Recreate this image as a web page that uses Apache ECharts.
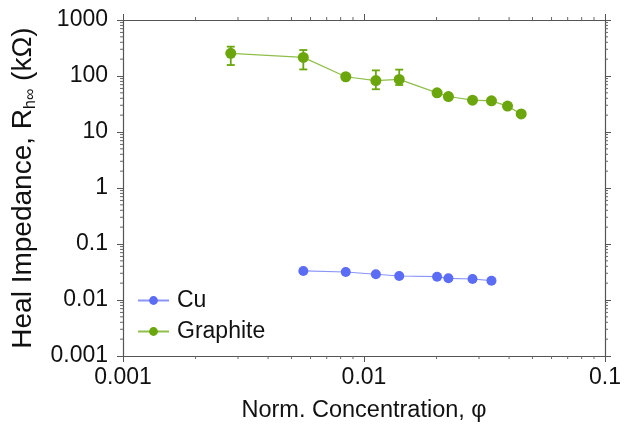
<!DOCTYPE html>
<html>
<head>
<meta charset="utf-8">
<script src="https://cdn.jsdelivr.net/npm/echarts@6/dist/echarts.min.js"></script>
<style>
	html, body { margin: 0; padding: 0; background: #fff; }
	#chart { width: 624px; height: 429px; }
</style>
</head>
<body>
<div id="chart"></div>
<script>
	// concentrations (phi) and heal impedance (kOhm)
	var graphiteX = [0.0028, 0.0056, 0.0084, 0.0112, 0.0140, 0.0201, 0.0224, 0.0282, 0.0338, 0.0394, 0.0449]
	var graphiteY = [254, 215, 97, 83, 87, 50, 43, 37, 36, 29, 21]
	var graphiteLow = [157, 131, null, 58, 69, null, null, null, null, null, null]
	var graphiteHigh = [334, 291, null, 126, 130, null, null, null, null, null, null]

	var cuX = [0.0056, 0.0084, 0.0112, 0.0140, 0.0201, 0.0224, 0.0282, 0.0338]
	var cuY = [0.0330, 0.0316, 0.0288, 0.0268, 0.0261, 0.0244, 0.0237, 0.0221]

	var green = '#6aa60c'
	var blue = '#5b6cf6'
	var font = 'Liberation Sans, Arial, sans-serif'

	function pairs(xs, ys) {
		return xs.map(function (x, i) { return [x, ys[i]] })
	}

	var errData = []
	graphiteX.forEach(function (x, i) {
		if (graphiteLow[i] != null) errData.push([x, graphiteLow[i], graphiteHigh[i]])
	})

	// log-spaced minor ticks (2..9 per decade), decoration only
	function minors(lo, hi) {
		var out = []
		for (var d = lo; d < hi; d *= 10) {
			for (var k = 2; k <= 9; k++) out.push(+(d * k).toPrecision(3))
		}
		return out
	}
	var xMinor = minors(0.001, 0.1)
	var yMinor = minors(0.001, 1000)

	var chart = echarts.init(document.getElementById('chart'))

	function axisBase(showLabel) {
		return {
			type: 'log',
			logBase: 10,
			axisLine: { show: true, lineStyle: { color: '#555', width: 1.2 } },
			axisTick: { show: true, inside: false, length: 6, lineStyle: { color: '#555' } },
			splitLine: { show: false },
			minorTick: { show: false },
			axisLabel: {
				show: showLabel,
				color: '#111',
				fontSize: 23,
				fontFamily: font,
				formatter: function (v) { return String(+v.toPrecision(3)) }
			}
		}
	}

	var xBottom = Object.assign(axisBase(true), {
		min: 0.001, max: 0.1, position: 'bottom',
		name: 'Norm. Concentration, φ',
		nameLocation: 'middle', nameGap: 43,
		nameTextStyle: { fontSize: 23.5, color: '#111', fontFamily: font }
	})
	xBottom.axisLabel.margin = 10
	xBottom.axisLabel.showMinLabel = true
	xBottom.axisLabel.showMaxLabel = true
	var xTop = Object.assign(axisBase(false), { min: 0.001, max: 0.1, position: 'top' })

	var yLeft = Object.assign(axisBase(true), {
		min: 0.001, max: 1000, position: 'left',
		name: '{a|Heal Impedance, R}{s|h∞}{a| (kΩ)}',
		nameLocation: 'middle', nameGap: 84, nameRotate: 90,
		nameTextStyle: {
			rich: {
				a: { fontSize: 28, color: '#111', fontFamily: font, lineHeight: 32 },
				s: { fontSize: 16, color: '#111', fontFamily: font, lineHeight: 32, verticalAlign: 'bottom', padding: [10, 0, 0, 0] }
			}
		}
	})
	yLeft.axisLabel.margin = 15
	var yRight = Object.assign(axisBase(false), { min: 0.001, max: 1000, position: 'right' })

	function minorTickSeries(axis, values) {
		return {
			type: 'custom',
			xAxisIndex: 0, yAxisIndex: 0,
			silent: true, clip: false, z: 1,
			data: values.map(function (v) { return [v] }),
			renderItem: function (params, api) {
				var v = api.value(0)
				var cs = params.coordSys
				var len = 3
				var lines = []
				if (axis === 'x') {
					var x = api.coord([v, 1])[0]
					lines.push([x, cs.y + cs.height, x, cs.y + cs.height + len])
					lines.push([x, cs.y, x, cs.y - len])
				} else {
					var y = api.coord([0.01, v])[1]
					lines.push([cs.x, y, cs.x - len, y])
					lines.push([cs.x + cs.width, y, cs.x + cs.width + len, y])
				}
				return {
					type: 'group',
					children: lines.map(function (l) {
						return { type: 'line', shape: { x1: l[0], y1: l[1], x2: l[2], y2: l[3] }, style: { stroke: '#666', lineWidth: 1 } }
					})
				}
			}
		}
	}

	var option = {
		animation: false,
		backgroundColor: '#fff',
		grid: { left: 123, right: 18, top: 20, bottom: 73 },
		legend: {
			orient: 'vertical',
			left: 132, top: 284,
			itemWidth: 31, itemHeight: 11, itemGap: 8,
			textStyle: { fontSize: 23, color: '#111', fontFamily: font, padding: [0, 0, 0, 3] },
			data: ['Cu', 'Graphite']
		},
		xAxis: [xBottom, xTop],
		yAxis: [yLeft, yRight],
		series: [
			minorTickSeries('x', xMinor),
			minorTickSeries('y', yMinor),
			{
				name: 'Cu',
				type: 'line',
				data: pairs(cuX, cuY),
				symbol: 'circle', symbolSize: 10,
				itemStyle: { color: blue },
				lineStyle: { color: '#8a95f5', width: 1.2 },
				z: 3
			},
			{
				name: 'Graphite',
				type: 'line',
				data: pairs(graphiteX, graphiteY),
				symbol: 'circle', symbolSize: 11,
				itemStyle: { color: green },
				lineStyle: { color: '#8fbf4a', width: 1.2 },
				z: 3
			},
			{
				type: 'custom',
				name: 'Graphite',
				silent: true, z: 4,
				data: errData,
				renderItem: function (params, api) {
					var x = api.value(0)
					var lo = api.coord([x, api.value(1)])
					var hi = api.coord([x, api.value(2)])
					var hw = 4
					var st = { stroke: green, lineWidth: 1.8 }
					return {
						type: 'group',
						children: [
							{ type: 'line', shape: { x1: lo[0], y1: lo[1], x2: hi[0], y2: hi[1] }, style: st },
							{ type: 'line', shape: { x1: lo[0] - hw, y1: lo[1], x2: lo[0] + hw, y2: lo[1] }, style: st },
							{ type: 'line', shape: { x1: hi[0] - hw, y1: hi[1], x2: hi[0] + hw, y2: hi[1] }, style: st }
						]
					}
				}
			}
		]
	}
	chart.setOption(option)
</script>
</body>
</html>
